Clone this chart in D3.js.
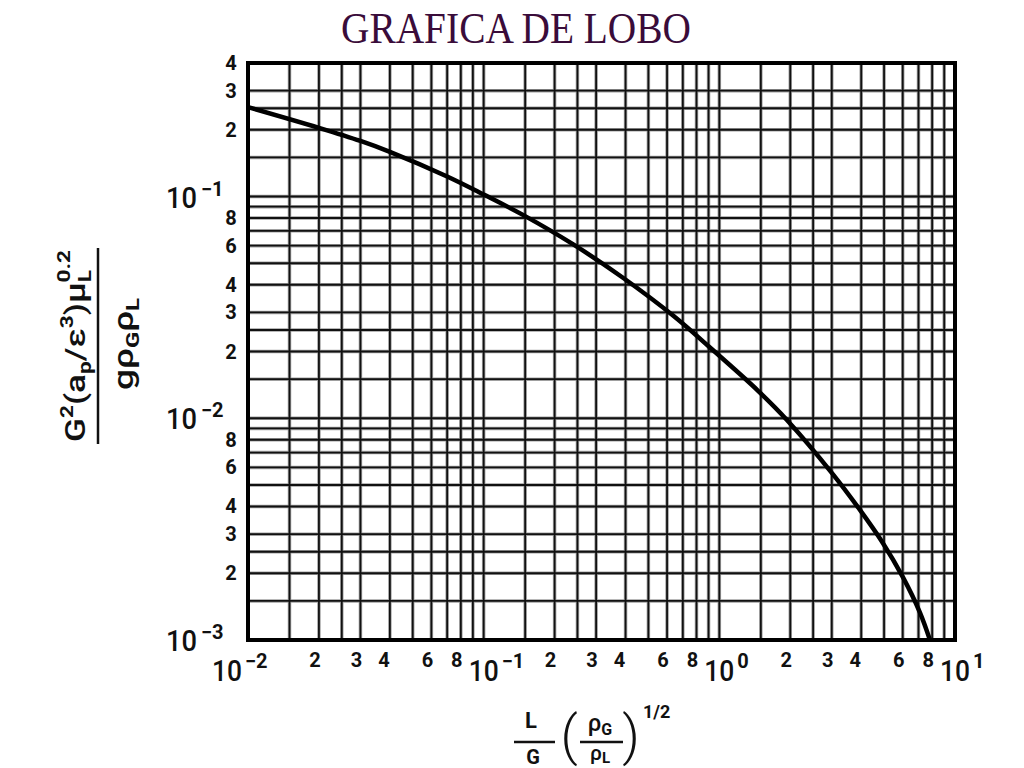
<!DOCTYPE html>
<html><head><meta charset="utf-8">
<script src="https://cdn.jsdelivr.net/npm/d3@7"></script>
<style>html,body{margin:0;padding:0;background:#fff;} svg{display:block;}</style>
</head><body>
<script>
// ---- data ----
const titleText = "GRAFICA DE LOBO";
const xDomain = [0.01, 10];
const yDomain = [0.001, 0.4];
const xDecadeExps = [-2, -1, 0, 1];
const yDecadeExps = [-1, -2, -3];
const xMinorDigits = [2, 3, 4, 6, 8];
const yMinorLabelVals = [0.4, 0.3, 0.2, 0.08, 0.06, 0.04, 0.03, 0.02, 0.008, 0.006, 0.004, 0.003, 0.002];
const gridMultipliers = [1, 1.5, 2, 2.5, 3, 4, 5, 6, 7, 8, 9];
const curveX = [0.01, 0.02, 0.03, 0.04, 0.07, 0.1, 0.148, 0.24, 0.39, 0.64, 0.91, 1.46, 1.94, 3.03, 3.95, 4.94, 6.01, 7.1, 7.83];
const curveY = [0.253, 0.204, 0.178, 0.159, 0.123, 0.102, 0.0822, 0.0608, 0.043, 0.0289, 0.0209, 0.0133, 0.0098, 0.0056, 0.00386, 0.00274, 0.00192, 0.00133, 0.001];

// ---- layout ----
const W = 1024, H = 768;
const plot = {left: 248, right: 955, top: 63, bottom: 640};
const FONT = "Roboto, 'DejaVu Sans', sans-serif";

const svg = d3.select("body").append("svg").attr("width", W).attr("height", H);
svg.append("rect").attr("width", W).attr("height", H).attr("fill", "#fff");

const x = d3.scaleLog().domain(xDomain).range([plot.left, plot.right]);
const y = d3.scaleLog().domain(yDomain).range([plot.bottom, plot.top]);

// title
svg.append("text").attr("x", 516).attr("y", 43).attr("text-anchor", "middle")
  .attr("font-family", "'Liberation Serif', 'Times New Roman', serif")
  .attr("font-size", 44).attr("fill", "#3a0c3a")
  .attr("textLength", 350).attr("lengthAdjust", "spacingAndGlyphs")
  .text(titleText);

// grid values
const gridVals = (dom) => {
  const out = [];
  for (let e = -3; e <= 1; e++) gridMultipliers.forEach(m => {
    const v = m * Math.pow(10, e);
    if (v > dom[0] * 1.0001 && v < dom[1] * 0.9999) out.push(v);
  });
  return out;
};
const xGrid = gridVals(xDomain), yGrid = gridVals(yDomain);

const grid = svg.append("g");
grid.selectAll("line.vx").data(xGrid).join("line")
  .attr("x1", d => x(d)).attr("x2", d => x(d)).attr("y1", plot.top).attr("y2", plot.bottom)
  .attr("stroke", "#a0a0a0").attr("stroke-width", 3.5);
grid.selectAll("line.hy").data(yGrid).join("line")
  .attr("y1", d => y(d)).attr("y2", d => y(d)).attr("x1", plot.left).attr("x2", plot.right)
  .attr("stroke", "#a0a0a0").attr("stroke-width", 3.5);
grid.selectAll("line.vxk").data(xGrid).join("line")
  .attr("x1", d => x(d)).attr("x2", d => x(d)).attr("y1", plot.top).attr("y2", plot.bottom)
  .attr("stroke", "#111").attr("stroke-width", 1.8);
grid.selectAll("line.hyk").data(yGrid).join("line")
  .attr("y1", d => y(d)).attr("y2", d => y(d)).attr("x1", plot.left).attr("x2", plot.right)
  .attr("stroke", "#111").attr("stroke-width", 1.8);

// curve
const pts = curveX.map((v, i) => [v, curveY[i]]);
svg.append("path").datum(pts)
  .attr("d", d3.line().x(d => x(d[0])).y(d => y(d[1])).curve(d3.curveCatmullRom.alpha(0.5)))
  .attr("fill", "none").attr("stroke", "#000").attr("stroke-width", 4.5)
  .attr("stroke-linejoin", "round");

// frame
svg.append("rect").attr("x", plot.left).attr("y", plot.top)
  .attr("width", plot.right - plot.left).attr("height", plot.bottom - plot.top)
  .attr("fill", "none").attr("stroke", "#000").attr("stroke-width", 4);

// ---- y labels ----
const yl = svg.append("g").attr("font-family", FONT).attr("fill", "#111");
yl.selectAll("text.m").data(yMinorLabelVals).join("text")
  .attr("x", 231).attr("y", d => y(d) + 7).attr("text-anchor", "middle")
  .attr("font-size", 20).attr("font-weight", 700)
  .text(d => String(Math.round(d / Math.pow(10, Math.floor(Math.log10(d) + 1e-9)))));
yDecadeExps.forEach(e => {
  const yy = y(Math.pow(10, e));
  yl.append("text").attr("x", 166).attr("y", yy + 11)
    .attr("font-size", 30).attr("font-weight", 500)
    .attr("textLength", 31).attr("lengthAdjust", "spacingAndGlyphs")
    .text("10");
  yl.append("text").attr("x", 201).attr("y", yy - 1)
    .attr("font-size", 20).attr("font-weight", 700)
    .text("\u2212" + Math.abs(e));
});

// ---- x labels ----
const xl = svg.append("g").attr("font-family", FONT).attr("fill", "#111");
xDecadeExps.slice(0, 3).forEach(e => {
  xMinorDigits.forEach(m => {
    const xx = x(m * Math.pow(10, e)) - (m === 4 ? 6 : 4);
    xl.append("text").attr("x", xx).attr("y", 667).attr("text-anchor", "middle")
      .attr("font-size", 20).attr("font-weight", 700).text(m);
  });
});
xDecadeExps.forEach((e, i) => {
  const xx = x(Math.pow(10, e)) + (i === 0 ? -21 : 0);
  xl.append("text").attr("x", xx).attr("y", 681).attr("text-anchor", "middle")
    .attr("font-size", 30).attr("font-weight", 500)
    .attr("textLength", 30).attr("lengthAdjust", "spacingAndGlyphs")
    .text("10");
  xl.append("text").attr("x", xx + 18).attr("y", 668)
    .attr("font-size", 20).attr("font-weight", 700)
    .text(e < 0 ? "\u2212" + Math.abs(e) : String(e));
});

// ---- y axis title (rotated fraction) ----
const yt = svg.append("g").attr("transform", "translate(98,346) rotate(-90)")
  .attr("font-family", FONT).attr("fill", "#111");
yt.append("line").attr("x1", -98).attr("x2", 98).attr("y1", 0).attr("y2", 0)
  .attr("stroke", "#111").attr("stroke-width", 2.5);
const num = yt.append("text").attr("x", 0).attr("y", -13).attr("text-anchor", "middle")
  .attr("font-size", 28).attr("font-weight", 500)
  .attr("textLength", 192).attr("lengthAdjust", "spacingAndGlyphs");
num.append("tspan").text("G");
num.append("tspan").attr("dy", -12).attr("font-size", 18).attr("font-weight", 700).text("2");
num.append("tspan").attr("dy", 12).text("(a");
num.append("tspan").attr("dy", 6).attr("font-size", 18).attr("font-weight", 700).text("p");
num.append("tspan").attr("dy", -6).text("/\u03b5");
num.append("tspan").attr("dy", -12).attr("font-size", 18).attr("font-weight", 700).text("3");
num.append("tspan").attr("dy", 12).text(")\u03bc");
num.append("tspan").attr("dy", 6).attr("font-size", 18).attr("font-weight", 700).text("L");
num.append("tspan").attr("dx", -10).attr("dy", -21).attr("font-size", 18).attr("font-weight", 700).text("0.2");
const den = yt.append("text").attr("x", 2).attr("y", 35).attr("text-anchor", "middle")
  .attr("font-size", 28).attr("font-weight", 500)
  .attr("textLength", 92).attr("lengthAdjust", "spacingAndGlyphs");
den.append("tspan").text("g\u03c1");
den.append("tspan").attr("dy", 6).attr("font-size", 18).attr("font-weight", 700).text("G");
den.append("tspan").attr("dy", -6).text("\u03c1");
den.append("tspan").attr("dy", 6).attr("font-size", 18).attr("font-weight", 700).text("L");

// ---- x axis title ----
const xt = svg.append("g").attr("font-family", FONT).attr("fill", "#111");
xt.append("text").attr("x", 531).attr("y", 728).attr("text-anchor", "middle")
  .attr("font-size", 22).attr("font-weight", 700).text("L");
xt.append("line").attr("x1", 514).attr("x2", 555).attr("y1", 742).attr("y2", 742)
  .attr("stroke", "#111").attr("stroke-width", 2.5);
xt.append("text").attr("x", 533).attr("y", 764).attr("text-anchor", "middle")
  .attr("font-size", 20).attr("font-weight", 700).text("G");
xt.append("text").attr("x", 569).attr("y", 754).attr("text-anchor", "middle")
  .attr("font-size", 54).attr("font-weight", 300).text("(");
xt.append("text").attr("x", 631).attr("y", 754).attr("text-anchor", "middle")
  .attr("font-size", 54).attr("font-weight", 300).text(")");
const rg = xt.append("text").attr("x", 600).attr("y", 731).attr("text-anchor", "middle")
  .attr("font-size", 24).attr("font-weight", 500);
rg.append("tspan").text("\u03c1");
rg.append("tspan").attr("dy", 4).attr("font-size", 16).attr("font-weight", 700).text("G");
xt.append("line").attr("x1", 580).attr("x2", 623).attr("y1", 742).attr("y2", 742)
  .attr("stroke", "#111").attr("stroke-width", 2.5);
const rl = xt.append("text").attr("x", 600).attr("y", 760).attr("text-anchor", "middle")
  .attr("font-size", 21).attr("font-weight", 500);
rl.append("tspan").text("\u03c1");
rl.append("tspan").attr("dy", 3).attr("font-size", 15).attr("font-weight", 700).text("L");
xt.append("text").attr("x", 643).attr("y", 718)
  .attr("font-size", 18).attr("font-weight", 700).text("1/2");
</script>
</body></html>
